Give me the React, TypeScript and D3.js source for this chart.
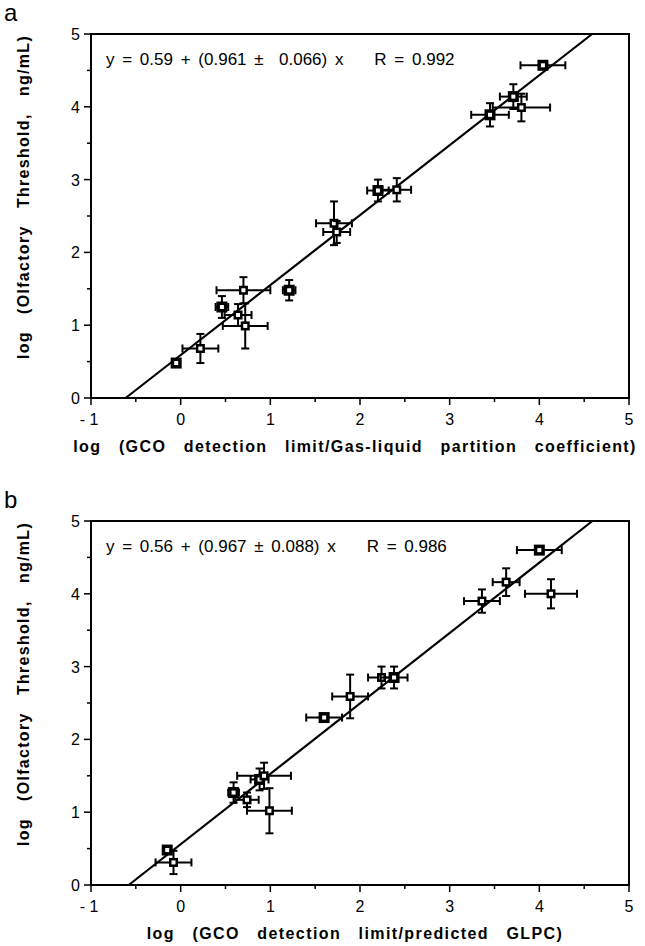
import React from "react";
import * as d3 from "d3";

// Panel a data: x, y, x error, y error, bold marker
const aX = [-0.05, 0.22, 0.46, 0.64, 0.7, 0.72, 1.21, 1.71, 1.74, 2.2, 2.41, 3.45, 3.71, 3.8, 4.04];
const aY = [0.48, 0.68, 1.25, 1.14, 1.48, 0.99, 1.48, 2.4, 2.28, 2.85, 2.86, 3.89, 4.14, 3.99, 4.57];
const aXErr = [0.03, 0.2, 0.07, 0.15, 0.3, 0.25, 0.07, 0.2, 0.15, 0.12, 0.16, 0.21, 0.15, 0.32, 0.25];
const aYErr = [0.03, 0.2, 0.15, 0.15, 0.18, 0.31, 0.14, 0.3, 0.15, 0.15, 0.16, 0.16, 0.17, 0.19, 0.05];
const aBold = [1, 0, 1, 0, 0, 0, 1, 0, 0, 1, 0, 1, 1, 0, 1];

// Panel b data
const bX = [-0.15, -0.08, 0.59, 0.74, 0.88, 0.93, 0.99, 1.6, 1.89, 2.24, 2.38, 3.36, 3.63, 4.0, 4.13];
const bY = [0.48, 0.31, 1.27, 1.17, 1.45, 1.5, 1.02, 2.3, 2.59, 2.85, 2.85, 3.9, 4.16, 4.6, 4.0];
const bXErr = [0.03, 0.2, 0.06, 0.13, 0.1, 0.3, 0.25, 0.2, 0.2, 0.15, 0.15, 0.2, 0.15, 0.25, 0.29];
const bYErr = [0.03, 0.16, 0.14, 0.1, 0.15, 0.18, 0.31, 0.05, 0.3, 0.15, 0.15, 0.16, 0.19, 0.05, 0.2];
const bBold = [1, 0, 1, 0, 1, 0, 0, 1, 0, 0, 1, 0, 0, 1, 0];

const xTicks = [-1, 0, 1, 2, 3, 4, 5];
const xTickLabels = ["- 1", "0", "1", "2", "3", "4", "5"];
const yTicks = [0, 1, 2, 3, 4, 5];

const aIntercept = 0.59, aSlope = 0.961;
const bIntercept = 0.56, bSlope = 0.967;

const eqA = "y = 0.59 + (0.961 \u00b1  0.066) x    R = 0.992";
const eqB = "y = 0.56 + (0.967 \u00b1 0.088) x    R = 0.986";
const xLabelA = "log   (GCO   detection   limit/Gas-liquid   partition   coefficient)";
const xLabelB = "log   (GCO   detection   limit/predicted   GLPC)";
const yLabel = "log   (Olfactory   Threshold,   ng/mL)";

const FONT = "'Liberation Sans', Arial, Helvetica, sans-serif";

function Panel({ top, letter, xs, ys, xe, ye, bold, a, b, eq, xLabel }: any) {
  const left = 91, right = 629;
  const bottom = top + 364;
  const x = d3.scaleLinear().domain([-1, 5]).range([left, right]);
  const y = d3.scaleLinear().domain([0, 5]).range([bottom, top]);
  const x0 = (0 - a) / b;
  const x1 = (5 - a) / b;
  const line = d3.line<[number, number]>().x(d => x(d[0])).y(d => y(d[1]));
  const minorX = d3.range(-0.5, 5, 1);
  const minorY = d3.range(0.5, 5, 1);
  const cap = 4;
  return (
    <g>
      <text x={4} y={top - 13} fontSize={24} fontFamily={FONT}>{letter}</text>
      <rect x={left} y={top} width={right - left} height={bottom - top} fill="none" stroke="#000" strokeWidth={2} />
      {yTicks.map(t => (
        <g key={"yt" + t}>
          <line x1={left - 7} x2={left} y1={y(t)} y2={y(t)} stroke="#000" strokeWidth={1.5} />
          <text x={left - 11} y={y(t) + 6} textAnchor="end" fontSize={16} fontFamily={FONT}>{t}</text>
        </g>
      ))}
      {minorY.map(t => (
        <line key={"ym" + t} x1={left - 4} x2={left} y1={y(t)} y2={y(t)} stroke="#000" strokeWidth={1.5} />
      ))}
      {xTicks.map((t, i) => (
        <g key={"xt" + t}>
          <line x1={x(t)} x2={x(t)} y1={bottom} y2={bottom + 7} stroke="#000" strokeWidth={1.5} />
          <text x={x(t) + (i === 0 ? -2 : 0)} y={bottom + 27} textAnchor="middle" fontSize={16} fontFamily={FONT} style={{ whiteSpace: "pre" }}>{xTickLabels[i]}</text>
        </g>
      ))}
      {minorX.map(t => (
        <line key={"xm" + t} x1={x(t)} x2={x(t)} y1={bottom} y2={bottom + 4} stroke="#000" strokeWidth={1.5} />
      ))}
      <path d={line([[x0, 0], [x1, 5]]) || ""} stroke="#000" strokeWidth={2.2} fill="none" />
      {xs.map((xv: number, i: number) => {
        const cx = x(xv), cy = y(ys[i]);
        const xl = x(xv - xe[i]), xr = x(xv + xe[i]);
        const yt = y(ys[i] + ye[i]), yb = y(ys[i] - ye[i]);
        const s = bold[i] ? 11 : 9;
        return (
          <g key={"p" + i}>
            <line x1={xl} x2={xr} y1={cy} y2={cy} stroke="#000" strokeWidth={2} />
            <line x1={cx} x2={cx} y1={yt} y2={yb} stroke="#000" strokeWidth={2} />
            <line x1={xl} x2={xl} y1={cy - cap} y2={cy + cap} stroke="#000" strokeWidth={2} />
            <line x1={xr} x2={xr} y1={cy - cap} y2={cy + cap} stroke="#000" strokeWidth={2} />
            <line x1={cx - cap} x2={cx + cap} y1={yt} y2={yt} stroke="#000" strokeWidth={2} />
            <line x1={cx - cap} x2={cx + cap} y1={yb} y2={yb} stroke="#000" strokeWidth={2} />
            <rect x={cx - s / 2} y={cy - s / 2} width={s} height={s} fill="#000" />
            <rect x={cx - 2} y={cy - 2} width={4} height={4} fill="#fff" stroke="none" />
          </g>
        );
      })}
      <text x={106} y={top + 31} fontSize={17} wordSpacing={3} fontFamily={FONT} style={{ whiteSpace: "pre" }}>{eq}</text>
      <text x={(left + right) / 2 - 5} y={bottom + 54} textAnchor="middle" fontSize={16} letterSpacing={1.4} fontWeight="bold" fontFamily={FONT} style={{ whiteSpace: "pre" }}>{xLabel}</text>
      <text transform={`translate(29,${(top + bottom) / 2 - 19}) rotate(-90)`} textAnchor="middle" fontSize={16} letterSpacing={1.3} fontWeight="bold" fontFamily={FONT} style={{ whiteSpace: "pre" }}>{yLabel}</text>
    </g>
  );
}

export default function App() {
  return (
    <svg width={645} height={946} style={{ position: "absolute", left: 0, top: 0, background: "#fff" }}>
      <rect width={645} height={946} fill="#fff" />
      <Panel top={34} letter="a" xs={aX} ys={aY} xe={aXErr} ye={aYErr} bold={aBold} a={aIntercept} b={aSlope} eq={eqA} xLabel={xLabelA} />
      <Panel top={521} letter="b" xs={bX} ys={bY} xe={bXErr} ye={bYErr} bold={bBold} a={bIntercept} b={bSlope} eq={eqB} xLabel={xLabelB} />
    </svg>
  );
}
